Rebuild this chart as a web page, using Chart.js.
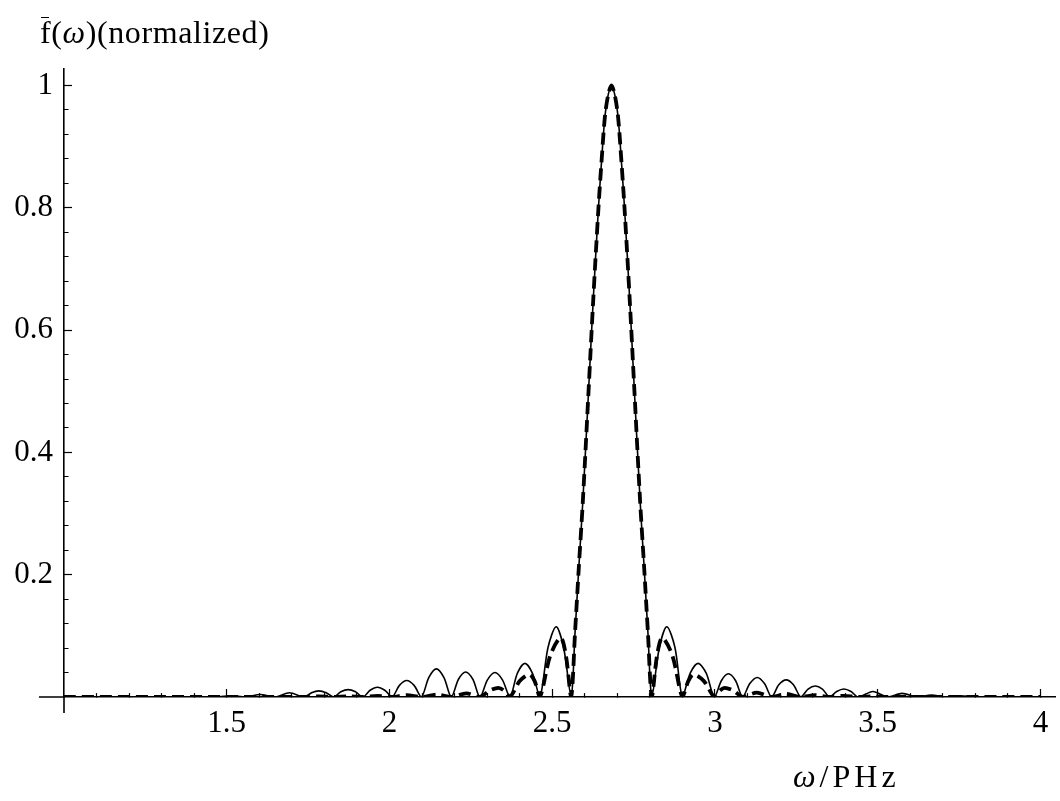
<!DOCTYPE html>
<html>
<head>
<meta charset="utf-8">
<script src="https://cdn.jsdelivr.net/npm/chart.js@4.4.0/dist/chart.umd.min.js"></script>
<style>
  html, body { margin: 0; padding: 0; background: #fff; }
  #wrap { position: relative; width: 1060px; height: 801px; }
  .axis-title {
    position: absolute;
    font-family: 'Liberation Serif', serif;
    color: #000;
    white-space: nowrap;
    line-height: 1;
  }
  #ytitle { left: 40px; top: 16px; font-size: 32px; letter-spacing: 0.6px; }
  #xtitle { left: 793px; top: 760px; font-size: 32px; letter-spacing: 4px; }
  .bar { position: relative; }
  .bar::before {
    content: '';
    position: absolute;
    left: 1px; right: 2px; top: 3px;
    border-top: 1.5px solid #000;
  }
</style>
</head>
<body>
<div id="wrap">
  <canvas id="spectrum" width="1060" height="801"></canvas>
  <div class="axis-title" id="ytitle"><span class="bar">f</span>(<i>ω</i>)(normalized)</div>
  <div class="axis-title" id="xtitle"><i>ω</i>/PHz</div>
</div>
<script>
// central peak, shared by both curves (omega in PHz, normalized value)
const mainOmega = [2.570, 2.582, 2.594, 2.612, 2.626, 2.642, 2.652, 2.662, 2.672, 2.682,
                   2.692, 2.702, 2.712, 2.722, 2.738, 2.752, 2.770, 2.782, 2.794];
const mainValue = [0.105, 0.215, 0.32, 0.505, 0.65, 0.80, 0.88, 0.95, 0.985, 1.0,
                   0.985, 0.95, 0.88, 0.80, 0.65, 0.505, 0.32, 0.215, 0.105];

// side lobes of the solid curve
const solidSideOmega = [
  1.000, 1.468, 1.513, 1.558, 1.603, 1.648, 1.693, 1.738,
  1.7605, 1.783, 1.8055, 1.828, 1.8505, 1.873, 1.8955, 1.918,
  1.9405, 1.963, 1.9855, 2.008, 2.0305, 2.053, 2.0755, 2.098,
  2.121, 2.144, 2.167, 2.190, 2.212, 2.234, 2.256, 2.278,
  2.301, 2.324, 2.347, 2.370, 2.393, 2.416, 2.439, 2.462,
  2.487, 2.512, 2.535, 2.558,
  2.806, 2.829, 2.852, 2.877, 2.900, 2.924, 2.948, 2.973, 2.998,
  3.020, 3.041, 3.063, 3.085, 3.107, 3.130, 3.152, 3.174,
  3.196, 3.219, 3.241, 3.264, 3.286, 3.308, 3.330, 3.352,
  3.374, 3.396, 3.418, 3.440, 3.485, 3.530, 3.575, 3.620,
  3.665, 3.710, 3.755, 3.800, 3.845, 3.890, 4.000
];
const solidSideValue = [
  0, 0, 0.002, 0, 0.004, 0, 0.007, 0,
  0.007, 0.010, 0.007, 0, 0.0085, 0.012, 0.0085, 0,
  0.011, 0.016, 0.011, 0, 0.019, 0.027, 0.019, 0,
  0.032, 0.046, 0.032, 0, 0.029, 0.041, 0.029, 0,
  0.028, 0.040, 0.028, 0, 0.039, 0.055, 0.039, 0,
  0.081, 0.115, 0.081, 0,
  0, 0.081, 0.115, 0.081, 0, 0.039, 0.055, 0.039, 0,
  0.027, 0.038, 0.027, 0, 0.022, 0.032, 0.022, 0,
  0.020, 0.028, 0.020, 0, 0.013, 0.018, 0.013, 0,
  0.009, 0.013, 0.009, 0, 0.009, 0, 0.006, 0,
  0.003, 0, 0.002, 0, 0.001, 0, 0
];

// side lobes of the dashed curve
const dashedSideOmega = [
  1.000, 1.738, 1.783, 1.828, 1.873, 1.918, 1.963, 2.008, 2.053, 2.098,
  2.146, 2.190, 2.236, 2.278, 2.306, 2.335, 2.353, 2.370,
  2.400, 2.430, 2.446, 2.462, 2.494, 2.526, 2.542, 2.558,
  2.806, 2.822, 2.838, 2.869, 2.900, 2.918, 2.934, 2.966, 2.998,
  3.014, 3.030, 3.058, 3.085, 3.128, 3.174, 3.218, 3.264,
  3.308, 3.352, 3.396, 3.440, 3.485, 3.530, 4.000
];
const dashedSideValue = [
  0, 0, 0.001, 0, 0.001, 0, 0.002, 0, 0.003, 0,
  0.004, 0, 0.006, 0, 0.010, 0.015, 0.010, 0,
  0.026, 0.037, 0.026, 0, 0.068, 0.097, 0.068, 0,
  0, 0.068, 0.097, 0.068, 0, 0.026, 0.037, 0.026, 0,
  0.010, 0.015, 0.010, 0, 0.007, 0, 0.005, 0,
  0.003, 0, 0.002, 0, 0.001, 0, 0
];

// ticks
const xTicks = [1.1, 1.2, 1.3, 1.4, 1.5, 1.6, 1.7, 1.8, 1.9, 2, 2.1, 2.2, 2.3, 2.4, 2.5,
                2.6, 2.7, 2.8, 2.9, 3, 3.1, 3.2, 3.3, 3.4, 3.5, 3.6, 3.7, 3.8, 3.9, 4];
const xLabeledTicks = [1.5, 2, 2.5, 3, 3.5, 4];
const xTickLabels = ['1.5', '2', '2.5', '3', '3.5', '4'];
const yTicks = [0.04, 0.08, 0.12, 0.16, 0.2, 0.24, 0.28, 0.32, 0.36, 0.4, 0.44, 0.48, 0.52,
                0.56, 0.6, 0.64, 0.68, 0.72, 0.76, 0.8, 0.84, 0.88, 0.92, 0.96, 1];
const yLabeledTicks = [0.2, 0.4, 0.6, 0.8, 1];
const yTickLabels = ['0.2', '0.4', '0.6', '0.8', '1'];

// axis ranges, where the drawn axes stop past the origin
const xMin = 1.0, xMax = 4.0446;
const yMin = 0, yMax = 1.027;
const xAxisStubStart = 0.923;
const yAxisStubBottom = -0.026;

const findTick = (v, list) => list.findIndex(t => Math.abs(t - v) < 1e-6);
const labelOf = (v, list, labels) => {
  const i = findTick(v, list);
  return i < 0 ? '' : labels[i];
};
const toPoints = (xs, ys) => xs.map((x, i) => ({ x: x, y: ys[i] })).sort((a, b) => a.x - b.x);

const solidPoints = toPoints(mainOmega.concat(solidSideOmega), mainValue.concat(solidSideValue));
const dashedPoints = toPoints(mainOmega.concat(dashedSideOmega), mainValue.concat(dashedSideValue));

// axis lines continue a little past the crossing point, like the original plot
const axisStubs = {
  id: 'axisStubs',
  beforeDatasetsDraw(chart) {
    const { ctx, scales: { x, y } } = chart;
    const x0 = x.getPixelForValue(xMin);
    const y0 = y.getPixelForValue(yMin);
    ctx.save();
    ctx.strokeStyle = '#000';
    ctx.lineWidth = 1.6;
    ctx.beginPath();
    ctx.moveTo(x.getPixelForValue(xAxisStubStart), y0);
    ctx.lineTo(x0, y0);
    ctx.moveTo(x0, y0);
    ctx.lineTo(x0, y.getPixelForValue(yAxisStubBottom));
    ctx.stroke();
    ctx.restore();
  }
};

Chart.defaults.font.family = "'Liberation Serif', serif";
Chart.defaults.color = '#000';

new Chart(document.getElementById('spectrum'), {
  type: 'line',
  data: {
    datasets: [
      {
        label: 'dashed',
        data: dashedPoints,
        borderColor: '#000',
        borderWidth: 3.8,
        borderDash: [12, 6],
        borderCapStyle: 'butt',
        pointRadius: 0,
        tension: 0.3,
        fill: false
      },
      {
        label: 'solid',
        data: solidPoints,
        borderColor: '#000',
        borderWidth: 1.6,
        pointRadius: 0,
        tension: 0.3,
        fill: false
      }
    ]
  },
  options: {
    responsive: false,
    animation: false,
    layout: { padding: { left: 0, right: 5, top: 69, bottom: 0 } },
    plugins: { legend: { display: false }, tooltip: { enabled: false } },
    scales: {
      x: {
        type: 'linear',
        position: 'bottom',
        bounds: 'data',
        min: xMin,
        max: xMax,
        afterBuildTicks: s => { s.ticks = xTicks.map(v => ({ value: v })); },
        afterFit: s => { s.height = 104; s.paddingLeft = 0; s.paddingRight = 0; },
        grid: {
          drawOnChartArea: false,
          tickLength: -8,
          tickWidth: 1.2,
          tickColor: '#000',
          tickBorderDash: c => (c.tick && findTick(c.tick.value, xLabeledTicks) < 0) ? [4.5, 100] : []
        },
        border: { color: '#000', width: 1.6 },
        ticks: {
          autoSkip: false,
          maxRotation: 0,
          padding: 16,
          font: { size: 31 },
          callback: v => labelOf(v, xLabeledTicks, xTickLabels)
        }
      },
      y: {
        type: 'linear',
        position: 'left',
        bounds: 'data',
        min: yMin,
        max: yMax,
        afterBuildTicks: s => { s.ticks = yTicks.map(v => ({ value: v })); },
        afterFit: s => { s.width = 64; s.paddingTop = 0; s.paddingBottom = 0; },
        grid: {
          drawOnChartArea: false,
          tickLength: -8,
          tickWidth: 1.2,
          tickColor: '#000',
          tickBorderDash: c => (c.tick && findTick(c.tick.value, yLabeledTicks) < 0) ? [0, 3.5, 5, 100] : []
        },
        border: { color: '#000', width: 1.6 },
        ticks: {
          autoSkip: false,
          padding: 19,
          font: { size: 31 },
          callback: v => labelOf(v, yLabeledTicks, yTickLabels)
        }
      }
    }
  },
  plugins: [axisStubs]
});
</script>
</body>
</html>
